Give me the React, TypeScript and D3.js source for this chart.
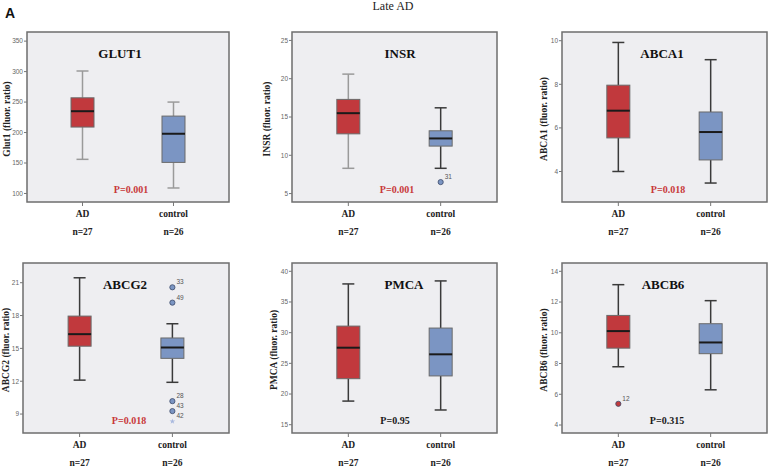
import React from "react";
import * as d3 from "d3";

// ---- data ----
const markers = ["GLUT1", "INSR", "ABCA1", "ABCG2", "PMCA", "ABCB6"];
const yTitles = [
  "Glut1 (fluor. ratio)",
  "INSR (fluor. ratio)",
  "ABCA1 (fluor. ratio)",
  "ABCG2 (fluor. ratio)",
  "PMCA (fluor. ratio)",
  "ABCB6 (fluor. ratio)",
];
const groups = ["AD", "control"];
const groupN = ["n=27", "n=26"];

// [whisker low, Q1, median, Q3, whisker high]
const adStats = [
  [156, 209, 235, 257, 301],
  [8.3, 12.8, 15.5, 17.3, 20.6],
  [4.0, 5.54, 6.79, 7.96, 9.92],
  [12.1, 15.2, 16.3, 17.95, 21.45],
  [18.85, 22.5, 27.55, 31.07, 37.94],
  [7.79, 9.0, 10.11, 11.13, 13.13],
];
const controlStats = [
  [109, 151, 198, 227, 250],
  [8.3, 11.2, 12.2, 13.2, 16.2],
  [3.47, 4.53, 5.81, 6.73, 9.13],
  [11.9, 14.09, 15.08, 15.95, 17.25],
  [17.4, 22.95, 26.47, 30.75, 38.43],
  [6.29, 8.64, 9.37, 10.59, 12.09],
];

const yDomains = [
  [86, 365],
  [3.9, 26.1],
  [2.6, 10.4],
  [7.27, 22.8],
  [13.65, 41.35],
  [3.48, 14.54],
];
const yTicks = [
  [100, 150, 200, 250, 300, 350],
  [5, 10, 15, 20, 25],
  [4, 6, 8, 10],
  [9, 12, 15, 18, 21],
  [15, 20, 25, 30, 35, 40],
  [4, 6, 8, 10, 12, 14],
];

const pValues = ["P=0.001", "P=0.001", "P=0.018", "P=0.018", "P=0.95", "P=0.315"];
const pSignificant = [true, true, true, true, false, false];

const outliers = [
  { panel: 1, group: "control", value: 6.5, label: "31", extreme: false },
  { panel: 3, group: "control", value: 20.58, label: "33", extreme: false },
  { panel: 3, group: "control", value: 19.18, label: "49", extreme: false },
  { panel: 3, group: "control", value: 10.18, label: "28", extreme: false },
  { panel: 3, group: "control", value: 9.27, label: "43", extreme: false },
  { panel: 3, group: "control", value: 8.33, label: "42", extreme: true },
  { panel: 5, group: "AD", value: 5.38, label: "12", extreme: false },
];

// ---- layout ----
const W = 769;
const H = 467;
const frames = [
  { x0: 27, x1: 229, y0: 32, y1: 202, titleX: 120, pX: 131, labelX: 6 },
  { x0: 292, x1: 497, y0: 32, y1: 202, titleX: 400, pX: 397, labelX: 266 },
  { x0: 562, x1: 767, y0: 32, y1: 202, titleX: 662, pX: 668, labelX: 543 },
  { x0: 23, x1: 229, y0: 263, y1: 433, titleX: 125, pX: 129, labelX: 5 },
  { x0: 292, x1: 497, y0: 263, y1: 433, titleX: 404, pX: 395, labelX: 273 },
  { x0: 562, x1: 767, y0: 263, y1: 433, titleX: 663, pX: 667, labelX: 543 },
];

const RED = "#c1393d";
const BLUE = "#7b95c3";
const serif = "'Liberation Serif', 'DejaVu Serif', serif";
const sans = "'Liberation Sans', Arial, sans-serif";

const BoxPanel = ({ i }: { i: number }) => {
  const f = frames[i];
  const y = d3.scaleLinear().domain(yDomains[i]).range([f.y1, f.y0]);
  const x = d3.scalePoint().domain(groups).range([f.x0, f.x1]).padding(0.61);
  const cy = (f.y0 + f.y1) / 2;
  const boxW = 23;
  const capW = 12;

  return (
    <g>
      <rect
        x={f.x0}
        y={f.y0}
        width={f.x1 - f.x0}
        height={f.y1 - f.y0}
        fill="#eeeef1"
        stroke="#6e6e6e"
        strokeWidth={1.5}
      />
      {yTicks[i].map((t) => (
        <g key={t} transform={`translate(${f.x0},${y(t)})`}>
          <line x1={-3} x2={0} stroke="#777" strokeWidth={1} />
          <text x={-4} dy="0.35em" textAnchor="end" fontSize={6.5} fill="#666" fontFamily={sans}>
            {t}
          </text>
        </g>
      ))}
      <text
        transform={`translate(${f.labelX + 4},${cy + 2}) rotate(-90)`}
        textAnchor="middle"
        fontSize={9.5}
        fontWeight="bold"
        fontFamily={serif}
        fill="#222"
      >
        {yTitles[i]}
      </text>
      <text
        x={f.titleX}
        y={f.y0 + 26}
        textAnchor="middle"
        fontSize={13}
        fontWeight="bold"
        fontFamily={serif}
        fill="#111"
      >
        {markers[i]}
      </text>
      {groups.map((g, gi) => {
        const s = gi === 0 ? adStats[i] : controlStats[i];
        const cx = x(g) as number;
        const whisk = i === 0 || (i === 1 && gi === 0) ? "#9a9a9a" : "#3a3a3a";
        return (
          <g key={g}>
            <line x1={cx} x2={cx} y1={y(s[0])} y2={y(s[1])} stroke={whisk} strokeWidth={1.5} />
            <line x1={cx} x2={cx} y1={y(s[3])} y2={y(s[4])} stroke={whisk} strokeWidth={1.5} />
            <line x1={cx - capW / 2} x2={cx + capW / 2} y1={y(s[0])} y2={y(s[0])} stroke={whisk} strokeWidth={1.5} />
            <line x1={cx - capW / 2} x2={cx + capW / 2} y1={y(s[4])} y2={y(s[4])} stroke={whisk} strokeWidth={1.5} />
            <rect
              x={cx - boxW / 2}
              y={y(s[3])}
              width={boxW}
              height={y(s[1]) - y(s[3])}
              fill={gi === 0 ? RED : BLUE}
              stroke="#6a6a6a"
              strokeWidth={1}
            />
            <line
              x1={cx - boxW / 2}
              x2={cx + boxW / 2}
              y1={y(s[2])}
              y2={y(s[2])}
              stroke="#1a1a1a"
              strokeWidth={2}
            />
            <line x1={cx} x2={cx} y1={f.y1} y2={f.y1 + 4} stroke="#777" strokeWidth={1} />
            <text
              x={cx}
              y={f.y1 + 15}
              textAnchor="middle"
              fontSize={9.5}
              fontWeight="bold"
              fontFamily={serif}
              fill="#222"
            >
              {g}
            </text>
            <text
              x={cx}
              y={f.y1 + 33}
              textAnchor="middle"
              fontSize={9.5}
              fontWeight="bold"
              fontFamily={serif}
              fill="#222"
            >
              {groupN[gi]}
            </text>
          </g>
        );
      })}
      {outliers
        .filter((o) => o.panel === i)
        .map((o) => {
          const cx = x(o.group) as number;
          const oy = y(o.value);
          const col = o.group === "AD" ? RED : BLUE;
          return (
            <g key={o.label}>
              {o.extreme ? (
                <path
                  transform={`translate(${cx},${oy})`}
                  d={d3.symbol(d3.symbolStar, 10)() as string}
                  fill="#a8b8de"
                />
              ) : (
                <circle cx={cx} cy={oy} r={2.6} fill={col} stroke="#3c4a6a" strokeWidth={0.8} />
              )}
              <text x={cx + 4} y={oy - 3} fontSize={6.5} fill="#555" fontFamily={sans}>
                {o.label}
              </text>
            </g>
          );
        })}
      <text
        x={f.pX}
        y={f.y1 - 9}
        textAnchor="middle"
        fontSize={10}
        fontWeight="bold"
        fontFamily={serif}
        fill={pSignificant[i] ? "#c8383a" : "#1a1a1a"}
      >
        {pValues[i]}
      </text>
    </g>
  );
};

const App = () => (
  <svg
    width={W}
    height={H}
    viewBox={`0 0 ${W} ${H}`}
    style={{ position: "absolute", left: 0, top: 0, background: "#fff" }}
  >
    <text x={5} y={18} fontSize={14} fontWeight="bold" fontFamily={sans} fill="#111">
      A
    </text>
    <text x={393} y={10} textAnchor="middle" fontSize={12} fontFamily={serif} fill="#222">
      Late AD
    </text>
    {markers.map((m, i) => (
      <BoxPanel key={m} i={i} />
    ))}
  </svg>
);

export default App;
